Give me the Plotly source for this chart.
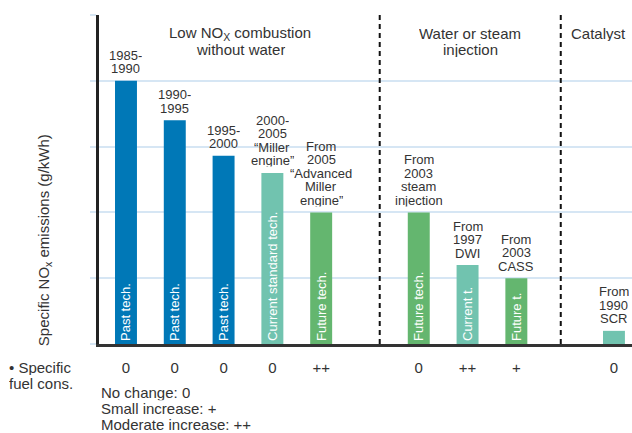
import plotly.graph_objects as go

# bar layout on a numeric x axis (gaps between technology groups)
bar_pos = [0, 1, 2, 3, 4, 6, 7, 8, 10]
nox = [4.0, 3.4, 2.86, 2.6, 2.0, 2.0, 1.2, 1.0, 0.2]
stage = ["past", "past", "past", "current", "future", "future", "current", "future", "current"]
inside_text = ["Past tech.", "Past tech.", "Past tech.", "Current standard tech.", "Future tech.",
               "Future tech.", "Current t.", "Future t.", ""]
bar_labels = ["1985-\n1990", "1990-\n1995", "1995-\n2000",
              "2000-\n2005\n\u201cMiller\nengine\u201d",
              "From\n2005\n\u201cAdvanced\nMiller\nengine\u201d",
              "From\n2003\nsteam\ninjection", "From\n1997\nDWI", "From\n2003\nCASS",
              "From\n1990\nSCR"]
fuel_cons = ["0", "0", "0", "0", "++", "0", "++", "+", "0"]

groups = ["Low NO<sub>X</sub> combustion\nwithout water", "Water or steam\ninjection", "Catalyst"]
group_x = [2.34, 7.05, 9.69]
separators = [5.2, 8.91]

colors = {"past": "#0078b7", "current": "#71c3af", "future": "#64b66f"}
TXT = "#333333"
FONT = "Liberation Sans, Arial, sans-serif"

fig = go.Figure()
fig.add_trace(go.Bar(
    x=bar_pos, y=nox, width=0.45,
    marker_color=[colors[s] for s in stage], marker_line_width=0,
    text=inside_text, textposition="inside", insidetextanchor="start",
    textangle=-90, textfont=dict(color="white", size=13, family=FONT),
    hoverinfo="skip",
))


def add_block(text, x, y, size, step, first_shift=0, xref="x", yref="y", xanchor="center"):
    # one annotation per line so the leading can be tighter than plotly's default
    for i, line in enumerate(text.split("\n")):
        fig.add_annotation(x=x, y=y, xref=xref, yref=yref, text=line, showarrow=False,
                           xanchor=xanchor, yanchor="middle", height=step - 1, borderpad=0,
                           yshift=first_shift - i * step,
                           font=dict(size=size, color=TXT, family=FONT))


# labels above bars
for p, v, lab in zip(bar_pos, nox, bar_labels):
    n = len(lab.split("\n"))
    add_block(lab, p, v, 13, 13.5, first_shift=12 + (n - 1) * 13.5)

# group titles
for g, gx in zip(groups, group_x):
    add_block(g, gx, 0.945, 15, 16, yref="paper")

# separators between groups
for s in separators:
    fig.add_shape(type="line", x0=s, x1=s, y0=0, y1=1, xref="x", yref="paper",
                  line=dict(color="#111111", width=2, dash="5px,4px"))

# y axis title
fig.add_annotation(x=-0.103, y=0.316, xref="paper", yref="paper", textangle=-90,
                   text="Specific NO<sub>x</sub> emissions (g/kWh)", showarrow=False,
                   xanchor="center", yanchor="middle", font=dict(size=15, color=TXT, family=FONT))

# fuel consumption row label and key
add_block("\u2022 Specific\nfuel cons.", -0.171, -0.07, 15, 16, xref="paper", yref="paper", xanchor="left")
add_block("No change: 0\nSmall increase: +\nModerate increase: ++", 0.002, -0.149, 15, 16.2,
          first_shift=1, xref="paper", yref="paper", xanchor="left")

fig.update_xaxes(range=[-0.553, 10.37], tickvals=bar_pos, ticktext=fuel_cons,
                 ticks="outside", ticklen=8, tickcolor="rgba(0,0,0,0)",
                 tickfont=dict(size=15, color=TXT, family=FONT),
                 showgrid=False, zeroline=False, showline=True, linecolor="#333333", linewidth=3)
fig.update_yaxes(range=[0, 5], dtick=1, showticklabels=False, ticks="outside", ticklen=6,
                 tickcolor="#d6e6f4", tickwidth=2, showgrid=True, gridcolor="#d6e6f4", gridwidth=2,
                 zeroline=False, showline=True, linecolor="#222222", linewidth=3)

fig.update_layout(width=632, height=433, margin=dict(l=99, r=0, t=15, b=89),
                  plot_bgcolor="white", paper_bgcolor="white", showlegend=False,
                  font=dict(family=FONT, color=TXT))

fig.write_html("out.html", config={"displayModeBar": False},
               post_script="document.body.style.margin='0';")
